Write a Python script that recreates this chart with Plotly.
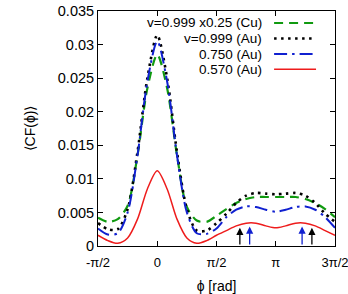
import numpy as np
import plotly.graph_objects as go

# ---- data ----
phi_deg = [-90, -75, -60, -45, -30, -15, 0, 15, 30, 45, 60, 75, 90,
           105, 120, 135, 150, 165, 180, 195, 210, 225, 240, 255, 270]

cu_0999 = [0.0042, 0.0036, 0.0040, 0.0060, 0.0135, 0.0235, 0.0285, 0.0235, 0.0135, 0.0058, 0.0038, 0.0036, 0.0045,
           0.0055, 0.0064, 0.0070, 0.0073, 0.0073, 0.0073, 0.0073, 0.0073, 0.0070, 0.0064, 0.0055, 0.0043]
au_0999 = [0.0034, 0.0025, 0.0025, 0.0055, 0.0140, 0.0250, 0.0314, 0.0250, 0.0140, 0.0055, 0.0023, 0.0023, 0.0034,
           0.0048, 0.0064, 0.0075, 0.0079, 0.0078, 0.0077, 0.0078, 0.0079, 0.0075, 0.0064, 0.0048, 0.0036]
au_0750 = [0.0026, 0.0017, 0.0019, 0.0050, 0.0135, 0.0245, 0.0305, 0.0245, 0.0135, 0.0050, 0.0019, 0.0018, 0.0026,
           0.0043, 0.0054, 0.0059, 0.0058, 0.0054, 0.0051, 0.0054, 0.0058, 0.0059, 0.0054, 0.0043, 0.0027]
au_0570 = [0.0016, 0.0008, 0.0004, 0.0012, 0.0040, 0.0085, 0.0112, 0.0085, 0.0040, 0.0012, 0.0004, 0.0008, 0.0016,
           0.0023, 0.0030, 0.0034, 0.0034, 0.0030, 0.0027, 0.0030, 0.0034, 0.0034, 0.0030, 0.0023, 0.0016]

series_labels = ["v=0.999 x0.25 (Cu)", "v=0.999 (Au)", "0.750 (Au)", "0.570 (Au)"]

arrow_phi_black = [2.19, 4.10]
arrow_phi_blue = [2.45, 3.84]
arrow_tip_black = 0.0027
arrow_tip_blue = 0.0029

x_tick_vals = [-np.pi / 2, 0, np.pi / 2, np.pi, 3 * np.pi / 2]
x_tick_text = ["-π/2", "0", "π/2", "π", "3π/2"]
y_tick_vals = [0, 0.005, 0.01, 0.015, 0.02, 0.025, 0.03, 0.035]
y_tick_text = ["0", "0.005", "0.01", "0.015", "0.02", "0.025", "0.03", "0.035"]

# ---- styles ----
GREEN = "#109a10"
BLACK = "#000000"
BLUE = "#1020d0"
RED = "#ee1c1c"
styles = [
    dict(color=GREEN, width=2.2, dash="9px,6px"),
    dict(color=BLACK, width=2.6, dash="2.5px,4.5px"),
    dict(color=BLUE, width=2.0, dash="13px,5px,2.5px,5px"),
    dict(color=RED, width=1.5, dash="solid"),
]
FONT = "Liberation Sans, Arial, sans-serif"

phi = np.deg2rad(phi_deg)

fig = go.Figure()
for ys, st, name in zip([cu_0999, au_0999, au_0750, au_0570], styles, series_labels):
    fig.add_trace(go.Scatter(x=phi, y=ys, mode="lines", name=name,
                             line=dict(shape="spline", smoothing=0.8, **st),
                             showlegend=False))

# Mach-cone arrows
for xs, tip, col in [(arrow_phi_black, arrow_tip_black, BLACK), (arrow_phi_blue, arrow_tip_blue, BLUE)]:
    for xv in xs:
        fig.add_annotation(x=xv, y=tip, ax=xv, ay=0, xref="x", yref="y", axref="x", ayref="y",
                           showarrow=True, arrowhead=2, arrowsize=1.1, arrowwidth=1.3,
                           arrowcolor=col, text="")

# custom legend (text right-aligned, sample on the right)
rows_y = [0.949, 0.883, 0.817, 0.752]
for lab, st, yy in zip(series_labels, styles, rows_y):
    fig.add_annotation(x=0.696, y=yy, xref="paper", yref="paper", text=lab, showarrow=False,
                       xanchor="right", yanchor="middle", borderpad=0,
                       font=dict(family=FONT, size=13.5, color="black"))
    fig.add_shape(type="line", xref="paper", yref="paper", x0=0.743, x1=0.92, y0=yy, y1=yy,
                  line=dict(color=st["color"], width=st["width"], dash=st["dash"]))

axis_common = dict(showline=True, linecolor="black", linewidth=1, mirror="ticks",
                   ticks="inside", ticklen=5, tickcolor="black", showgrid=False, zeroline=False,
                   ticklabeloverflow="allow", automargin=False)

eps = 1e-6
fig.update_layout(
    width=348, height=294,
    margin=dict(l=98, r=13, t=11, b=47.5),
    plot_bgcolor="white", paper_bgcolor="white",
    font=dict(family=FONT, size=14, color="black"),
    xaxis=dict(range=[-np.pi / 2 - eps, 3 * np.pi / 2 + eps], tickvals=x_tick_vals, ticktext=x_tick_text,
               ticklabelstandoff=4, tickfont=dict(family=FONT, size=13, color="black"),
               title=dict(text="ϕ [rad]", standoff=13, font=dict(family=FONT, size=14)),
               **axis_common),
    yaxis=dict(range=[0, 0.035], tickvals=y_tick_vals, ticktext=y_tick_text,
               tickfont=dict(family=FONT, size=14.5, color="black"),
               title=dict(text="⟨CF(ϕ)⟩", standoff=18, font=dict(family=FONT, size=14)),
               **axis_common),
)

fig.write_html("out.html")
